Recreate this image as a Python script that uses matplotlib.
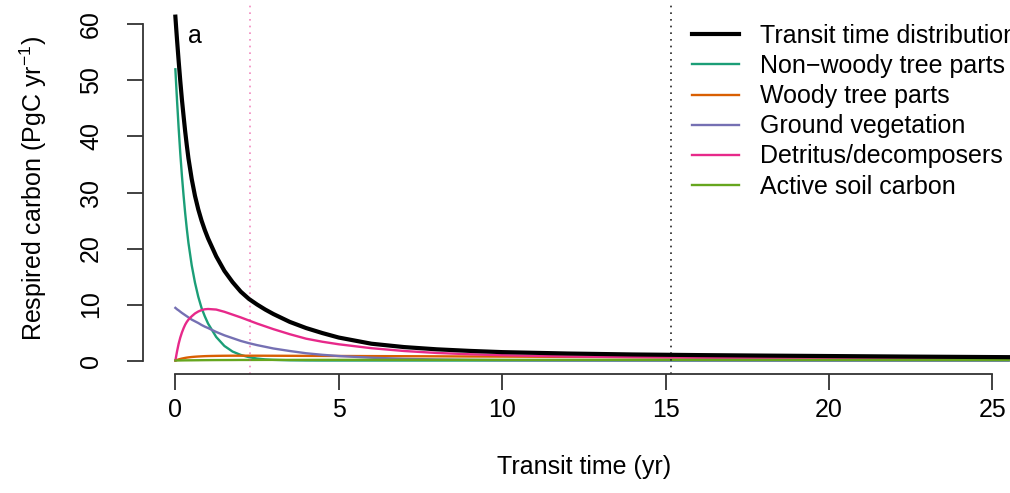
import matplotlib
matplotlib.use("Agg")
import matplotlib.pyplot as plt

plt.rcParams["font.family"] = ["Liberation Sans", "DejaVu Sans"]
plt.rcParams["mathtext.fontset"] = "custom"
plt.rcParams["mathtext.rm"] = "Liberation Sans"
plt.rcParams["mathtext.default"] = "regular"

# transit time grid (yr) (PgC yr-1)
t = [0, 0.025, 0.05, 0.075, 0.1, 0.15, 0.2, 0.25, 0.3, 0.35, 0.4, 0.5, 0.6, 0.7,
     0.8, 0.9, 1.0, 1.25, 1.5, 1.75, 2.0, 2.25, 2.5, 2.75, 3.0, 3.5, 4.0, 4.5,
     5.0, 6.0, 7.0, 8.0, 9.0, 10.0, 12.0, 14.0, 16.0, 18.0, 20.0, 22.5, 25.5]

total = [61.4, 59.3, 57.3, 55.4, 53.5, 49.9, 46.6, 43.7, 40.9, 38.4, 36.1, 32.4, 29.4, 27.0,
         25.0, 23.3, 21.8, 18.6, 16.0, 14.0, 12.3, 11.0, 10.0, 9.1, 8.3, 6.9, 5.8, 4.9,
         4.1, 3.0, 2.4, 2.0, 1.72, 1.5, 1.25, 1.08, 0.97, 0.88, 0.8, 0.7, 0.6]
nonwoody = [52.0, 49.2, 46.5, 44.0, 41.5, 37.0, 33.0, 29.5, 26.3, 23.5, 21.0, 17.0, 13.9, 11.4,
            9.4, 7.9, 6.6, 4.2, 2.6, 1.6, 1.0, 0.6, 0.35, 0.2, 0.12, 0.04, 0.01, 0,
            0, 0, 0, 0, 0, 0, 0, 0, 0, 0, 0, 0, 0]
woody = [0, 0.05, 0.1, 0.15, 0.2, 0.28, 0.35, 0.41, 0.47, 0.52, 0.56, 0.63, 0.68, 0.72,
         0.75, 0.78, 0.8, 0.83, 0.85, 0.86, 0.86, 0.86, 0.86, 0.855, 0.85, 0.84, 0.83, 0.82,
         0.81, 0.79, 0.77, 0.75, 0.72, 0.7, 0.65, 0.6, 0.56, 0.51, 0.47, 0.42, 0.37]
ground = [9.4, 9.28, 9.15, 9.05, 8.95, 8.72, 8.5, 8.3, 8.1, 7.9, 7.7, 7.3, 7.0, 6.7,
          6.35, 6.05, 5.8, 5.1, 4.5, 4.0, 3.5, 3.1, 2.75, 2.45, 2.15, 1.7, 1.3, 1.02,
          0.8, 0.5, 0.3, 0.19, 0.12, 0.07, 0.03, 0.015, 0.01, 0.005, 0, 0, 0]
detritus = [0, 0.8, 1.6, 2.3, 3.0, 4.1, 5.0, 5.75, 6.4, 6.9, 7.3, 7.9, 8.4, 8.75,
            9.0, 9.15, 9.2, 9.1, 8.7, 8.2, 7.7, 7.15, 6.6, 6.1, 5.6, 4.7, 3.9, 3.35,
            2.9, 2.2, 1.7, 1.35, 1.12, 0.95, 0.72, 0.6, 0.5, 0.43, 0.38, 0.31, 0.25]
soil = [0, 0.003, 0.005, 0.008, 0.01, 0.015, 0.02, 0.025, 0.03, 0.032, 0.035, 0.04, 0.045, 0.05,
        0.06, 0.065, 0.07, 0.08, 0.085, 0.09, 0.1, 0.1, 0.105, 0.108, 0.11, 0.11, 0.115, 0.118,
        0.12, 0.12, 0.12, 0.12, 0.12, 0.12, 0.12, 0.115, 0.11, 0.105, 0.1, 0.095, 0.09]

labels = ["Transit time distribution", "Non\u2212woody tree parts", "Woody tree parts",
          "Ground vegetation", "Detritus/decomposers", "Active soil carbon"]
colors = ["black", "#1B9E77", "#D95F02", "#7570B3", "#E7298A", "#66A61E"]

mean_tt = 2.29
median_tt = 15.17

FS = 18
W, H = 1010, 493
fig = plt.figure(figsize=(W / 100, H / 100), dpi=100)
# plot region runs a little past the right edge, as in the original (cropped) figure
left, right, bottom, top = 142.7, 1025, 374.3, 2.3
ax = fig.add_axes([left / W, (H - bottom) / H, (right - left) / W, (bottom - top) / H])

series = [total, nonwoody, woody, ground, detritus, soil]
for i, (y, lab, c) in enumerate(zip(series, labels, colors)):
    lw = 3.0 if i == 0 else 1.7
    ax.plot(t, y, color=c, lw=lw, label=lab, zorder=3 if i == 0 else 2,
            solid_joinstyle="round")

ax.axvline(mean_tt, color="#E7298A", alpha=0.55, lw=1.2, ls=(0, (1, 3)))
ax.axvline(median_tt, color="#222222", lw=1.2, ls=(0, (1, 3)))

ax.set_xlim(-1, 26)
ax.set_ylim(-2.46, 63.96)
for s in ["top", "right"]:
    ax.spines[s].set_visible(False)
ax.spines["left"].set_bounds(0, 60)
ax.spines["bottom"].set_bounds(0, 25)
for s in ["left", "bottom"]:
    ax.spines[s].set_linewidth(1.3)
    ax.spines[s].set_color("#333333")

ax.set_xticks([0, 5, 10, 15, 20, 25])
ax.set_yticks([0, 10, 20, 30, 40, 50, 60])
ax.set_yticklabels(["0", "10", "20", "30", "40", "50", "60"], rotation=90, va="center")
ax.tick_params(direction="out", length=11.5, width=1.3, color="#333333", labelsize=FS)
ax.tick_params(axis="y", pad=17)
ax.tick_params(axis="x", pad=5.5)

ax.set_xlabel("Transit time (yr)", fontsize=FS)
ax.xaxis.set_label_coords(0.5, -0.216)
ax.set_ylabel("Respired carbon (PgC yr$^{-1}$)", fontsize=FS)
ax.yaxis.set_label_coords(-0.106, 0.5)

ax.text(0.4, 57.9, "a", fontsize=FS, va="center", ha="left")

ax.legend(loc="upper left", bbox_to_anchor=(692 / W, (H - 24) / H),
          bbox_transform=fig.transFigure, frameon=False, fontsize=FS,
          handlelength=1.88, handletextpad=0.84, labelspacing=0.245,
          borderpad=0, borderaxespad=0)

fig.savefig("out.png", dpi=100)
